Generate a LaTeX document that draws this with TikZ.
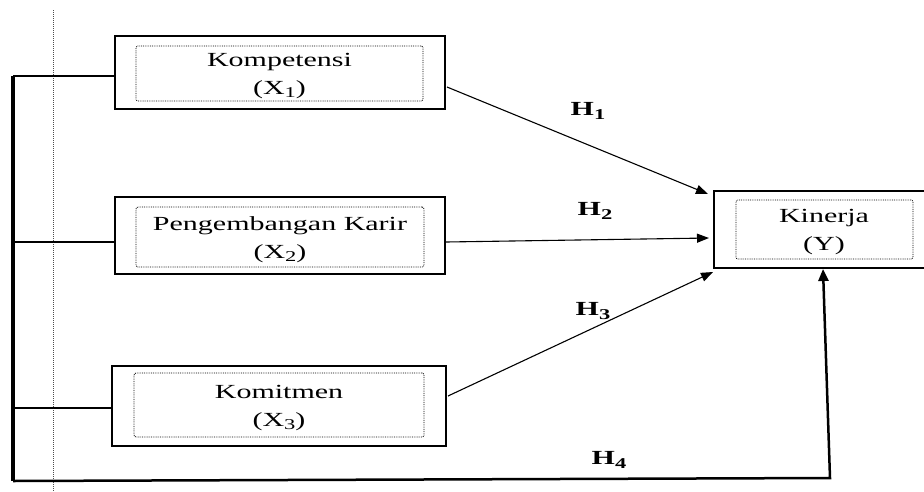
\documentclass[tikz,border=0pt]{standalone}
\usepackage{fontspec}
\usepackage{graphicx}
\setmainfont{Liberation Serif}
\usetikzlibrary{arrows.meta}
\newcommand\subd[1]{\raisebox{-0.35ex}{\fontsize{15}{15}\selectfont #1}}
\newcommand\twolines[2]{\scalebox{1.5}[1]{\begin{tabular}{@{}c@{}}#1\\#2\end{tabular}}}
\newcommand\wide[1]{\scalebox{1.5}[1]{#1}}
\begin{document}
\begin{tikzpicture}[x=1pt,y=-1pt,
  outerbox/.style={draw, line width=2.5pt, inner sep=0pt},
  innerbox/.style={draw, densely dotted, line width=0.8pt, rounded corners=2pt, inner sep=0pt},
  lbl/.style={font=\fontsize{20}{28}\selectfont, inner sep=0pt},
  hyp/.style={font=\fontsize{20}{24}\selectfont\bfseries, inner sep=0pt},
  arr/.style={line width=1.1pt, -{Triangle[length=12pt,width=9pt]}},
  brk/.style={line width=2pt}]
\useasboundingbox (0,0) rectangle (924,491);
% dotted vertical guide
\draw[densely dotted, line width=1pt, black!70] (53,10) -- (53,491);
% boxes
\node[outerbox, minimum width=330, minimum height=73] (X1) at (280,72.5) {};
\node[innerbox, minimum width=287, minimum height=55] (X1i) at (279.5,73.5) {};
\node[lbl] (X1t) at (279.5,75) {\twolines{Kompetensi}{(X\subd{1})}};
\node[outerbox, minimum width=330, minimum height=77] (X2) at (280,235.5) {};
\node[innerbox, minimum width=288, minimum height=60] (X2i) at (280,237) {};
\node[lbl] (X2t) at (280,239) {\twolines{Pengembangan Karir}{(X\subd{2})}};
\node[outerbox, minimum width=334, minimum height=80] (X3) at (279,406) {};
\node[innerbox, minimum width=290, minimum height=64] (X3i) at (279,405) {};
\node[lbl] (X3t) at (279,407) {\twolines{Komitmen}{(X\subd{3})}};
\node[outerbox, minimum width=214, minimum height=77] (Y) at (821,229.5) {};
\node[innerbox, minimum width=177, minimum height=59] (Yi) at (824.5,229.5) {};
\node[lbl] (Yt) at (824,231) {\twolines{Kinerja}{(Y)}};
% coordinates
\coordinate (s1) at (447,87);   \coordinate (t1) at (708,194);
\coordinate (s2) at (446,242);  \coordinate (t2) at (709,238);
\coordinate (s3) at (448,396);  \coordinate (t3) at (713,272);
\coordinate (b1) at (13,76);
\coordinate (b2) at (13,242);
\coordinate (b3) at (13,408);
\coordinate (bb) at (13,481);
\coordinate (c4) at (830,478);
\coordinate (t4) at (823,269);
% arrows
\draw[arr] (s1) -- (t1);
\draw[arr] (s2) -- (t2);
\draw[arr] (s3) -- (t3);
% bracket
\draw[line width=4pt] (b1) -- (bb);
\draw[brk] (b1) -- (b1 -| X1.west);
\draw[brk] (b2) -- (b2 -| X2.west);
\draw[brk] (b3) -- (b3 -| X3.west);
\draw[line width=2.5pt, line join=miter, -{Triangle[length=12pt,width=10pt]}] (bb) -- (c4) -- (t4);
% labels
\node[hyp] (h1) at (588,111) {\wide{H\subd{1}}};
\node[hyp] (h2) at (595,211) {\wide{H\subd{2}}};
\node[hyp] (h3) at (593,311) {\wide{H\subd{3}}};
\node[hyp] (h4) at (609,460) {\wide{H\subd{4}}};
\end{tikzpicture}
\end{document}
